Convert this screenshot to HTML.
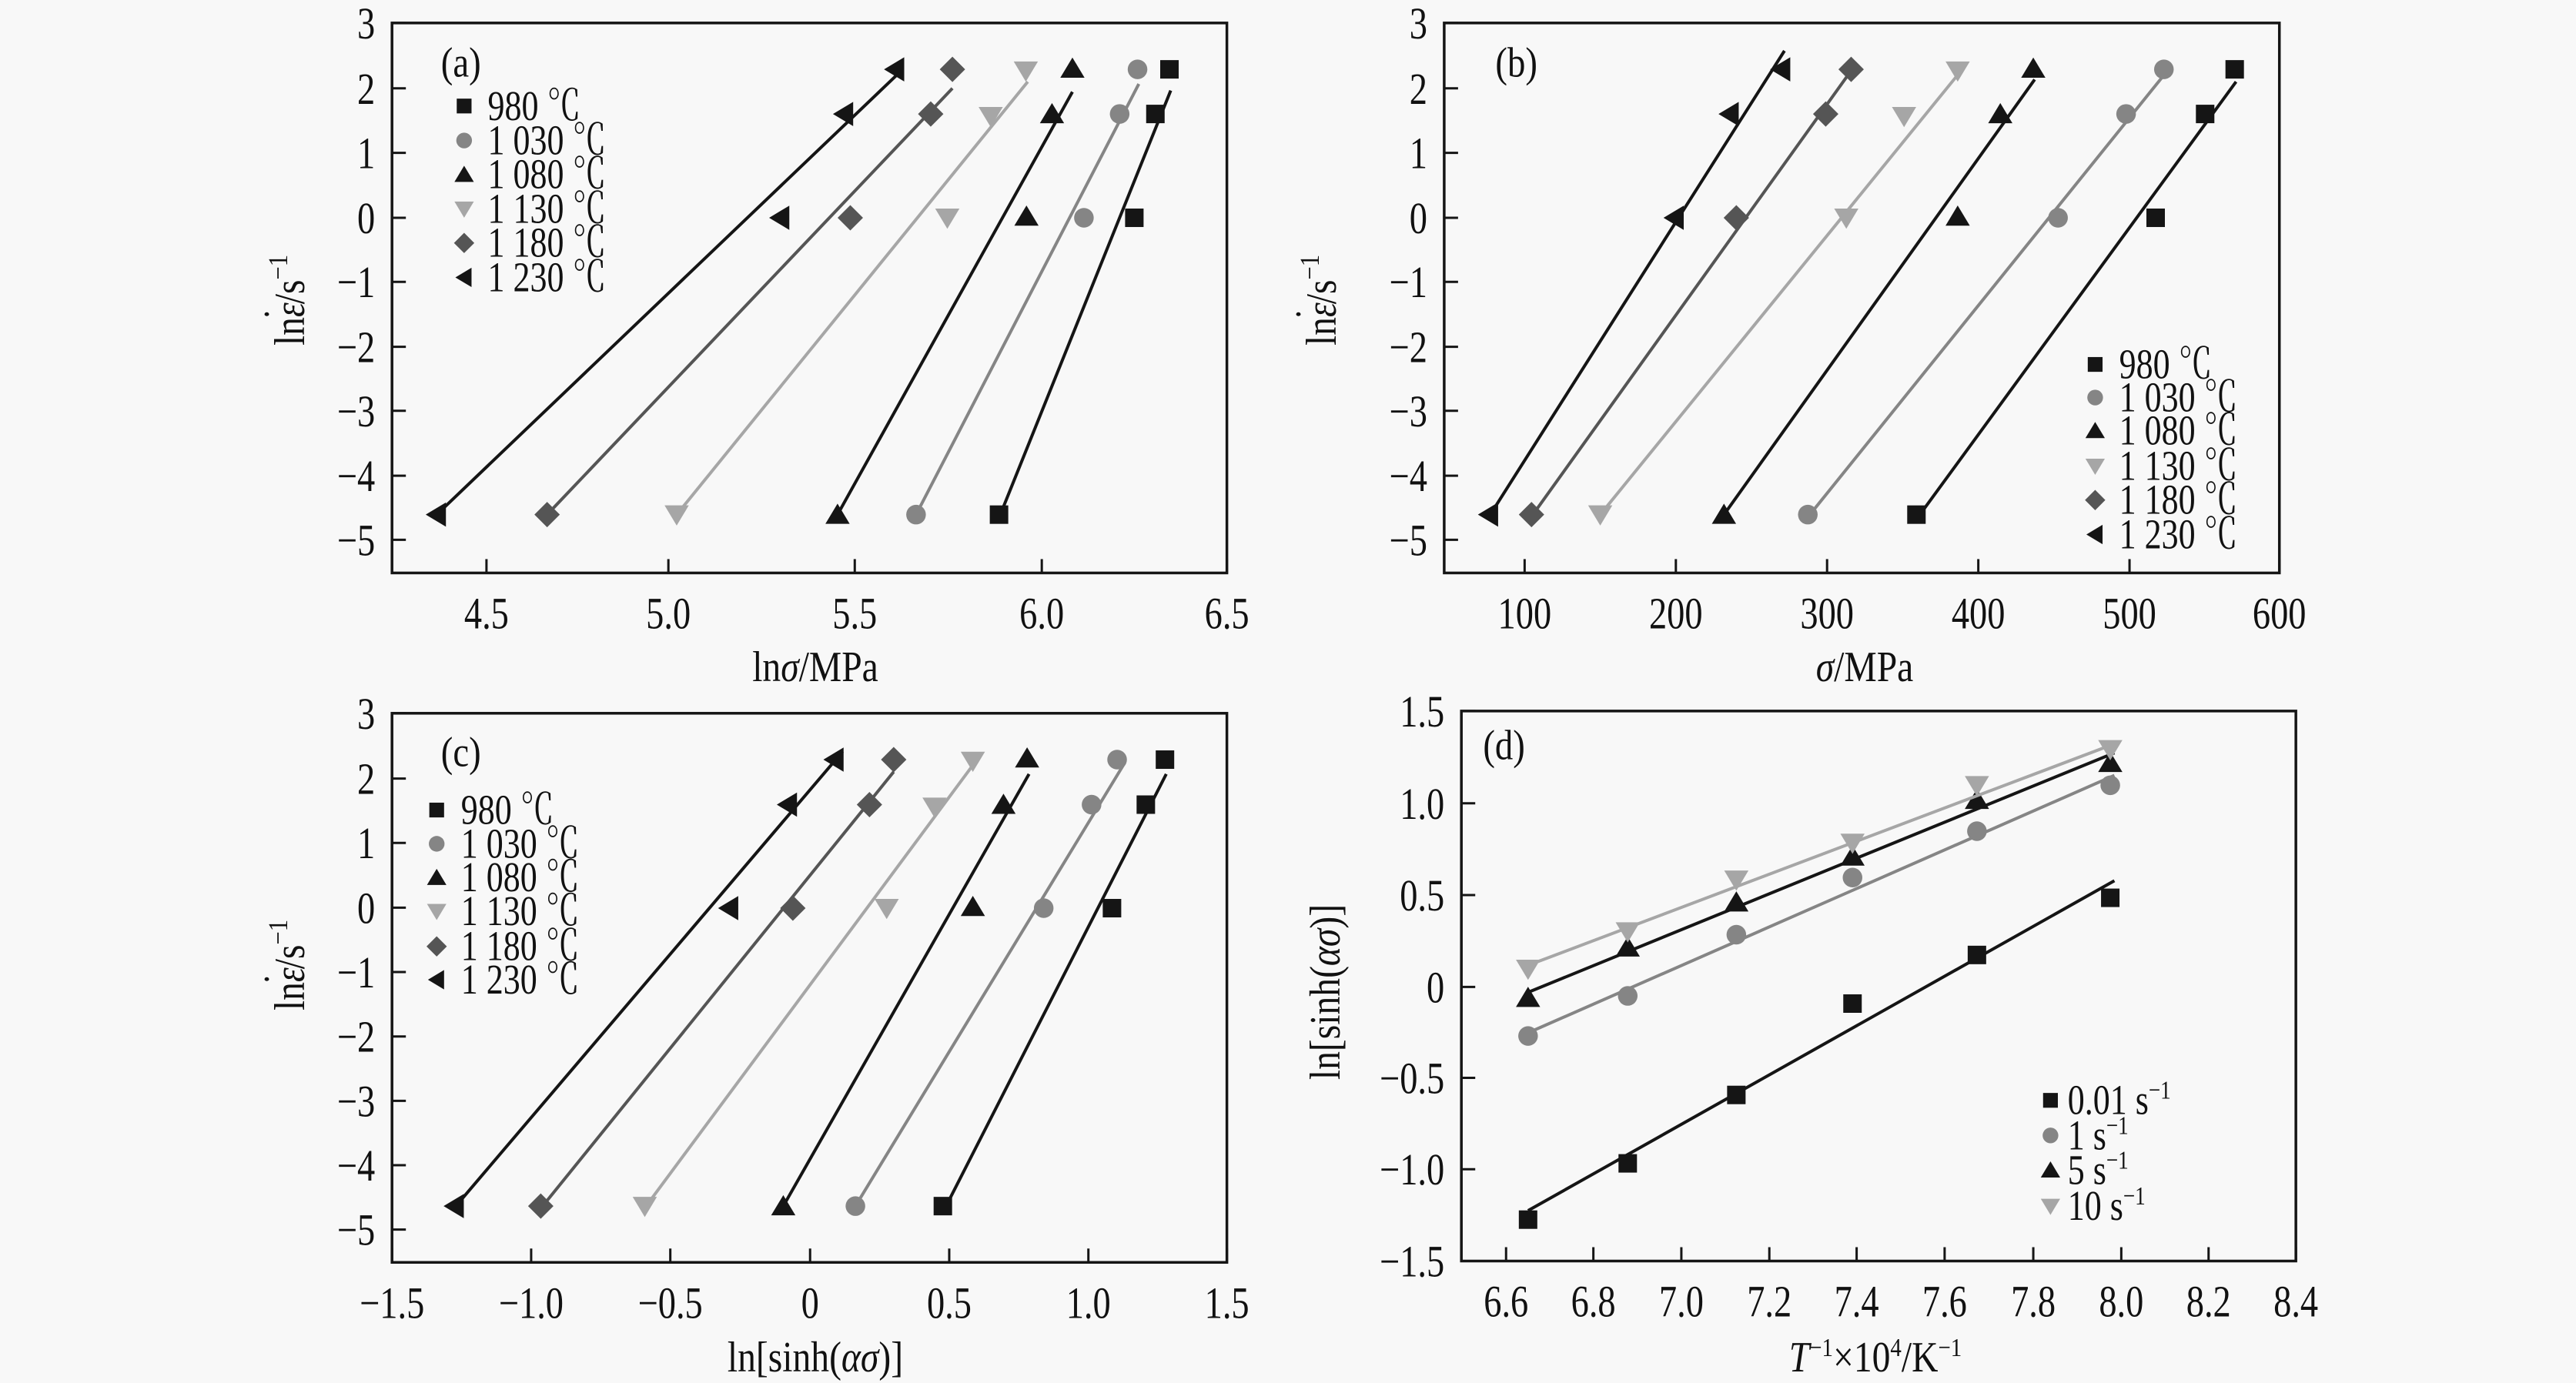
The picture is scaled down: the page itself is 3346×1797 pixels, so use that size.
<!DOCTYPE html>
<html><head><meta charset="utf-8">
<style>
html,body{margin:0;padding:0;background:#f8f8f8;}
svg{display:block;}
text{font-family:"Liberation Serif","Noto Serif CJK SC",serif;fill:#111;}
</style></head>
<body>
<svg id="s" width="3346" height="1797" viewBox="0 0 3346 1797" xmlns="http://www.w3.org/2000/svg">
<rect width="3346" height="1797" fill="#f8f8f8"/>
</svg>
<script>
const S=document.getElementById('s');const NS='http://www.w3.org/2000/svg';
function el(t,a,p){const e=document.createElementNS(NS,t);for(const k in a)e.setAttribute(k,a[k]);(p||S).appendChild(e);return e;}
function txt(x,y,s,fs,anchor,cond,rot,extra){
  let tr='translate('+x+','+y+')'+(rot?' rotate('+rot+')':'')+' scale('+(cond||0.85)+',1)';
  const t=el('text',Object.assign({transform:tr,'font-size':fs,'text-anchor':anchor||'middle'},extra||{}));
  t.innerHTML=s;return t;
}
const BLK='#151515',GRY='#858585',LGY='#a6a6a6',DGY='#555555';
function marker(type,x,y,c,r){
  r=r||14;
  if(type=='sq') el('rect',{x:x-r*0.8,y:y-r*0.8,width:r*1.6,height:r*1.6,fill:c});
  else if(type=='ci') el('circle',{cx:x,cy:y,r:r*0.85,fill:c});
  else if(type=='tu') el('polygon',{points:`${x-r*1.05},${y+r*0.8} ${x+r*1.05},${y+r*0.8} ${x},${y-r*0.95}`,fill:c});
  else if(type=='td') el('polygon',{points:`${x-r*1.05},${y-r*0.8} ${x+r*1.05},${y-r*0.8} ${x},${y+r*0.95}`,fill:c});
  else if(type=='di') el('polygon',{points:`${x},${y-r*1.1} ${x+r*1.1},${y} ${x},${y+r*1.1} ${x-r*1.1},${y}`,fill:c});
  else if(type=='tl') el('polygon',{points:`${x+r*0.8},${y-r*1.05} ${x+r*0.8},${y+r*1.05} ${x-r*0.95},${y}`,fill:c});
}
function panel(P){
  const T=(zx,zy)=>[P.ox+zx*P.sx,P.oy+zy*P.sy];
  const [L,Tp]=T(P.box[0],P.box[1]);const [R,B]=T(P.box[2],P.box[3]);
  P.series.forEach(s=>{
    const a=T(s.line[0],s.line[1]),b=T(s.line[2],s.line[3]);
    el('line',{x1:a[0],y1:a[1],x2:b[0],y2:b[1],stroke:s.c,'stroke-width':4});
    s.pts.forEach(p=>{const q=T(p[0],p[1]);marker(s.m,q[0],q[1],s.c,15);});
  });
  el('rect',{x:L,y:Tp,width:R-L,height:B-Tp,fill:'none',stroke:BLK,'stroke-width':3.5});
  P.yt.forEach(t=>{const y=T(0,t[0])[1];el('line',{x1:L,y1:y,x2:L+18,y2:y,stroke:BLK,'stroke-width':3});
    txt(L-22,y+20,t[1],58,'end',0.8);});
  P.xt.forEach(t=>{const x=T(t[0],0)[0];el('line',{x1:x,y1:B,x2:x,y2:B-18,stroke:BLK,'stroke-width':3});
    txt(x,B+72,t[1],58,'middle',0.8);});
  P.series.forEach((s,i)=>{const q=T(P.leg[0],P.leg[2][i]);marker(s.m,q[0],q[1],s.c,12);
    const q2=T(P.leg[1],P.leg[2][i]);txt(q2[0],q2[1]+18,s.n,55,'start',0.8);});
  const lb=T(P.lab[0],P.lab[1]);txt(lb[0],lb[1]+19,P.lab[2],55,'middle',0.85);
  txt(P.xl[0],P.xl[1],P.xl[2],56,'middle',0.85);
  txt(P.yl[0],P.yl[1],P.yl[2],56,'middle',0.85,-90);
}
const temps=['980 ℃','1 030 ℃','1 080 ℃','1 130 ℃','1 180 ℃','1 230 ℃'];
const mk=['sq','ci','tu','td','di','tl'],cl=[BLK,GRY,BLK,LGY,DGY,BLK];
function mkS(d){return d.map((x,i)=>({n:temps[i],m:mk[i],c:cl[i],pts:x[0],line:x[1]}));}
const ytA=[[52,'3'],[200,'2'],[346,'1'],[493,'0'],[638,'−1'],[785,'−2'],[930,'−3'],[1077,'−4'],[1222,'−5']];
const YL='ln<tspan font-style="italic">ε</tspan><tspan dx="-27" dy="-14">˙</tspan><tspan dx="6" dy="14">/s</tspan><tspan font-size="36" dy="-22">−1</tspan>';
panel({ox:350,oy:0,sx:1300/1568,sy:900/1568,box:[192,52,1500,1297],
 yt:ytA,xt:[[340,'4.5'],[625,'5.0'],[917,'5.5'],[1210,'6.0'],[1500,'6.5']],
 series:mkS([
  [[[1143,1165],[1355,493],[1388,258],[1410,157]],[1145,1165,1412,205]],
  [[[1013,1165],[1276,493],[1332,258],[1360,157]],[1013,1165,1362,190]],
  [[[890,1165],[1186,490],[1226,258],[1258,155]],[890,1165,1258,208]],
  [[[638,1165],[1062,493],[1130,263],[1185,160]],[638,1165,1188,185]],
  [[[435,1165],[910,493],[1036,258],[1070,157]],[435,1165,1070,200]],
  [[[262,1165],[800,493],[900,258],[980,157]],[262,1165,990,160]]]),
 leg:[305,342,[240,318,395,473,550,628]],lab:[300,140,'(a)'],
 xl:[1059,885,'ln<tspan font-style="italic">σ</tspan>/MPa'],yl:[395,390,YL]});
panel({ox:1650,oy:0,sx:1400/1568,sy:900/1568,box:[253,52,1468,1297],
 yt:ytA,xt:[[370,'100'],[590,'200'],[810,'300'],[1030,'400'],[1250,'500'],[1468,'600']],
 series:mkS([
  [[[940,1165],[1288,493],[1360,258],[1403,157]],[945,1165,1405,185]],
  [[[782,1165],[1146,493],[1245,258],[1300,157]],[785,1165,1300,170]],
  [[[660,1165],[1000,490],[1062,258],[1110,155]],[660,1165,1112,180]],
  [[[480,1165],[838,493],[922,263],[1000,160]],[480,1165,1005,160]],
  [[[380,1165],[678,493],[808,258],[845,157]],[382,1165,845,160]],
  [[[318,1165],[588,493],[668,258],[743,157]],[320,1165,748,115]]]),
 leg:[1200,1235,[825,900,975,1055,1132,1210]],lab:[358,140,'(b)'],
 xl:[2422,885,'<tspan font-style="italic">σ</tspan>/MPa'],yl:[1735,390,YL]});
panel({ox:350,oy:880,sx:1300/1568,sy:917/1568,box:[192,80,1500,1300],
 yt:[[80,'3'],[225,'2'],[368,'1'],[512,'0'],[655,'−1'],[798,'−2'],[941,'−3'],[1084,'−4'],[1227,'−5']],
 xt:[[192,'−1.5'],[410,'−1.0'],[628,'−0.5'],[847,'0'],[1065,'0.5'],[1283,'1.0'],[1500,'1.5']],
 series:mkS([
  [[[1055,1175],[1320,513],[1373,283],[1403,183]],[1060,1175,1405,215]],
  [[[918,1175],[1213,513],[1288,283],[1328,183]],[918,1175,1340,190]],
  [[[805,1175],[1102,510],[1150,283],[1187,180]],[805,1175,1190,215]],
  [[[588,1175],[967,513],[1042,288],[1102,186]],[590,1175,1110,180]],
  [[[425,1175],[820,513],[940,283],[978,183]],[428,1175,978,210]],
  [[[290,1175],[720,513],[812,283],[885,183]],[292,1175,898,165]]]),
 leg:[262,300,[295,370,445,520,598,672]],lab:[300,165,'(c)'],
 xl:[1059,1782,'ln[sinh(<tspan font-style="italic">ασ</tspan>)]'],yl:[395,1254,YL]});
const rates=['0.01 s<tspan font-size="34" dy="-20">−1</tspan>','1 s<tspan font-size="34" dy="-20">−1</tspan>','5 s<tspan font-size="34" dy="-20">−1</tspan>','10 s<tspan font-size="34" dy="-20">−1</tspan>'];
panel({ox:1650,oy:880,sx:1400/1568,sy:917/1568,box:[278,75,1492,1297],
 yt:[[75,'1.5'],[280,'1.0'],[484,'0.5'],[688,'0'],[890,'−0.5'],[1093,'−1.0'],[1297,'−1.5']],
 xt:[[343,'6.6'],[470,'6.8'],[598,'7.0'],[726,'7.2'],[853,'7.4'],[981,'7.6'],[1110,'7.8'],[1238,'8.0'],[1365,'8.2'],[1492,'8.4']],
 series:[
  {n:rates[0],m:'sq',c:BLK,pts:[[375,1205],[520,1080],[678,928],[847,725],[1028,617],[1222,490]],line:[375,1185,1228,452]},
  {n:rates[1],m:'ci',c:GRY,pts:[[375,797],[520,708],[678,572],[847,445],[1028,342],[1222,240]],line:[375,790,1228,218]},
  {n:rates[2],m:'tu',c:BLK,pts:[[375,712],[520,600],[678,500],[847,398],[1028,272],[1222,190]],line:[375,700,1228,168]},
  {n:rates[3],m:'td',c:LGY,pts:[[375,648],[520,565],[678,450],[847,368],[1028,240],[1222,160]],line:[375,640,1228,148]}],
 leg:[1135,1160,[940,1018,1095,1175]],lab:[340,150,'(d)'],
 xl:[2436,1782,'<tspan font-style="italic">T</tspan><tspan font-size="34" dy="-20">−1</tspan><tspan dy="20">×10</tspan><tspan font-size="34" dy="-20">4</tspan><tspan dy="20">/K</tspan><tspan font-size="34" dy="-20">−1</tspan>'],
 yl:[1740,1289,'ln[sinh(<tspan font-style="italic">ασ</tspan>)]']});
</script>
</body></html>
